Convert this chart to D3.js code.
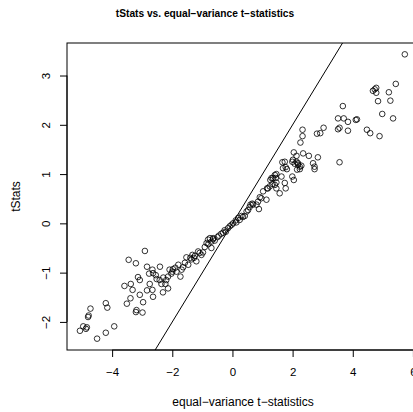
<!DOCTYPE html>
<html>
<head>
<meta charset="utf-8">
<script src="https://cdn.jsdelivr.net/npm/d3@7"></script>
<style>
  body { margin: 0; background: #fff; }
  text { font-family: "Liberation Sans", Arial, sans-serif; fill: #000; }
</style>
</head>
<body>
<div id="plot"></div>
<script>
// equal-variance t-statistics (x) and tStats (y)
var eqVarT = [
  -5.07, -4.96, -4.87, -4.84, -4.80, -4.78, -4.72, -4.50, -4.21, -3.93, -4.21, -4.16, -3.51, -3.59, -3.45, -3.21, -3.21, -3.19,
  -3.38, -3.32, -3.39, -2.99, -2.97, -3.08, -3.14, -3.08, -2.84, -2.77, -2.66, -2.64, -2.75, -2.84, -2.66, -2.64, -2.52,
  -2.41, -2.42, -2.36, -2.31, -2.23, -2.14, -2.20, -2.14, -2.09, -1.98, -2.03, -1.86, -1.80, -1.73, -1.69, -1.64, -1.53,
  -1.47, -1.36, -1.33, -1.25, -1.20, -1.14, -1.09, -1.03, -0.98, -0.86, -0.81, -0.75, -0.70, -0.64, -0.59, -0.70, -0.31,
  -0.26, -0.09, 0.02, 0.11, 0.19, -2.91,
  -2.55, -2.30, -2.00, -1.90, -1.58, -1.40, -1.28, -0.92, -0.80, -0.50, -0.45,
  -0.64, -0.37, -0.22, -0.15, -0.03, 0.13, 0.24, 0.30, 0.35, 0.41, 0.47, 0.52, 0.57, 0.68, 0.88, 0.80, 0.91, 0.85, 0.96,
  1.13, 1.02, 1.18, 1.57, 1.77, 1.74, 1.46, 1.41, 1.35, 1.26, 2.04, 1.99, 1.63, 1.44, 1.46, 1.81, 1.77, 1.68, 1.74,
  2.73, 2.73, 2.68, 2.29, 2.15, 2.24, 2.18, 2.07, 2.13, 2.01, 2.84, 2.54, 2.35, 2.04,
  1.24, 1.33, 0.66, 0.60, 1.15, 1.46,
  5.73, 5.43, 5.20, 5.25, 4.78, 4.73, 4.67, 4.78, 4.84, 4.98, 5.34, 3.67, 3.51, 3.70, 3.84, 4.10, 4.14, 3.51, 3.56, 3.84,
  3.03, 2.81, 2.92, 2.33, 2.33, 2.26, 4.47, 4.58, 4.89, 3.56, 2.13, 1.66, 1.99, 2.18, 2.24, 1.41, 1.30
];
var tStats = [
  -2.18, -2.09, -2.14, -2.11, -1.90, -1.87, -1.73, -2.34, -2.22, -2.09, -1.62, -1.71, -1.63, -1.27, -0.74, -0.81, -1.80, -1.76,
  -1.23, -1.35, -1.52, -1.81, -1.60, -1.45, -1.09, -1.15, -0.88, -1.02, -0.94, -1.01, -1.23, -1.36, -1.35, -1.49, -1.13,
  -0.88, -1.15, -1.23, -1.40, -1.23, -1.32, -1.15, -1.08, -0.94, -0.93, -1.02, -0.98, -0.84, -1.08, -0.94, -0.89, -0.69,
  -0.84, -0.73, -0.64, -0.66, -0.77, -0.57, -0.60, -0.64, -0.59, -0.40, -0.33, -0.30, -0.37, -0.32, -0.35, -0.50, -0.19,
  -0.14, -0.06, 0.00, 0.06, 0.11, -0.56,
  -1.05, -1.10, -0.98, -0.90, -0.80, -0.70, -0.70, -0.48, -0.42, -0.28, -0.25,
  -0.30, -0.21, -0.17, -0.10, -0.03, 0.02, 0.07, 0.15, 0.13, 0.15, 0.24, 0.27, 0.33, 0.38, 0.29, 0.38, 0.53, 0.44, 0.51,
  0.48, 0.65, 0.71, 0.61, 0.71, 0.82, 0.71, 0.78, 0.92, 0.88, 0.88, 0.95, 0.95, 0.92, 1.00, 1.10, 1.14, 1.12, 1.25,
  1.10, 1.15, 1.22, 1.17, 1.09, 1.15, 1.22, 1.21, 1.25, 1.29, 1.34, 1.37, 1.42, 1.44,
  0.75, 0.80, 0.40, 0.38, 0.71, 0.83,
  3.43, 2.83, 2.66, 2.49, 2.75, 2.72, 2.69, 2.65, 2.48, 2.22, 2.13, 2.38, 2.13, 2.13, 2.06, 2.10, 2.11, 1.91, 1.94, 1.88,
  1.94, 1.82, 1.83, 1.90, 1.77, 1.64, 1.90, 1.83, 1.77, 1.24, 1.37, 1.24, 1.25, 1.19, 1.10, 0.98, 0.92
];
var xTicks = [-4, -2, 0, 2, 4, 6];
var yTicks = [-2, -1, 0, 1, 2, 3];
var xlim = [-5.5, 6.9];
var ylim = [-2.57, 3.66];

var svgWidth = 413;
var svgHeight = 412;
var plotBox = { left: 67, top: 43, right: 440, bottom: 350 };

var svg = d3.select("#plot").append("svg")
    .attr("width", svgWidth).attr("height", svgHeight);

var x = d3.scaleLinear().domain(xlim).range([plotBox.left, plotBox.right]);
var y = d3.scaleLinear().domain(ylim).range([plotBox.bottom, plotBox.top]);

svg.append("clipPath").attr("id", "clip").append("rect")
    .attr("x", plotBox.left).attr("y", plotBox.top)
    .attr("width", plotBox.right - plotBox.left)
    .attr("height", plotBox.bottom - plotBox.top);

// x axis (R style: line spans first to last tick)
var xAxis = svg.append("g")
    .attr("transform", `translate(0, ${plotBox.bottom})`)
    .call(d3.axisBottom(x).tickValues(xTicks).tickSize(7).tickSizeOuter(0)
        .tickFormat(d => d < 0 ? "\u2212" + Math.abs(d) : d));
xAxis.select(".domain").remove();
xAxis.append("line")
    .attr("x1", x(xTicks[0])).attr("x2", x(xTicks[xTicks.length - 1]))
    .attr("stroke", "#000");
xAxis.selectAll(".tick text").attr("y", 26).attr("dy", 0)
    .attr("dominant-baseline", "alphabetic")
    .style("font-size", "11.5px").style("font-family", "Liberation Sans, Arial, sans-serif");

// y axis with rotated labels
var yAxis = svg.append("g")
    .attr("transform", `translate(${plotBox.left}, 0)`)
    .call(d3.axisLeft(y).tickValues(yTicks).tickSize(7).tickSizeOuter(0)
        .tickFormat(d => d < 0 ? "\u2212" + Math.abs(d) : d));
yAxis.select(".domain").remove();
yAxis.append("line")
    .attr("y1", y(yTicks[0])).attr("y2", y(yTicks[yTicks.length - 1]))
    .attr("stroke", "#000");
yAxis.selectAll(".tick text")
    .attr("x", 0).attr("dy", 0)
    .attr("text-anchor", "middle")
    .attr("transform", "translate(-17, 0) rotate(-90)")
    .style("font-size", "11.5px").style("font-family", "Liberation Sans, Arial, sans-serif");

// frame
svg.append("rect")
    .attr("x", plotBox.left).attr("y", plotBox.top)
    .attr("width", plotBox.right - plotBox.left)
    .attr("height", plotBox.bottom - plotBox.top)
    .attr("fill", "none").attr("stroke", "#000").attr("stroke-width", 1);

var chartGroup = svg.append("g").attr("clip-path", "url(#clip)");

// points
chartGroup.selectAll("circle")
    .data(eqVarT.map((d, i) => [d, tStats[i]]))
    .enter().append("circle")
    .attr("cx", d => x(d[0]))
    .attr("cy", d => y(d[1]))
    .attr("r", 2.8)
    .attr("fill", "none")
    .attr("stroke", "#000")
    .attr("stroke-width", 0.8);

// identity line y = x
chartGroup.append("line")
    .attr("x1", x(ylim[0])).attr("y1", y(ylim[0]))
    .attr("x2", x(ylim[1])).attr("y2", y(ylim[1]))
    .attr("stroke", "#000").attr("stroke-width", 1);

// titles
svg.append("text")
    .attr("x", 205).attr("y", 17)
    .attr("text-anchor", "middle")
    .style("font-size", "10.2px").style("font-weight", "bold")
    .text("tStats vs. equal\u2212variance t\u2212statistics");

svg.append("text")
    .attr("x", 243).attr("y", 406)
    .attr("text-anchor", "middle")
    .style("font-size", "12px")
    .text("equal\u2212variance t\u2212statistics");

svg.append("text")
    .attr("transform", "translate(20, 196.5) rotate(-90)")
    .attr("text-anchor", "middle")
    .style("font-size", "12px")
    .text("tStats");
</script>
</body>
</html>
